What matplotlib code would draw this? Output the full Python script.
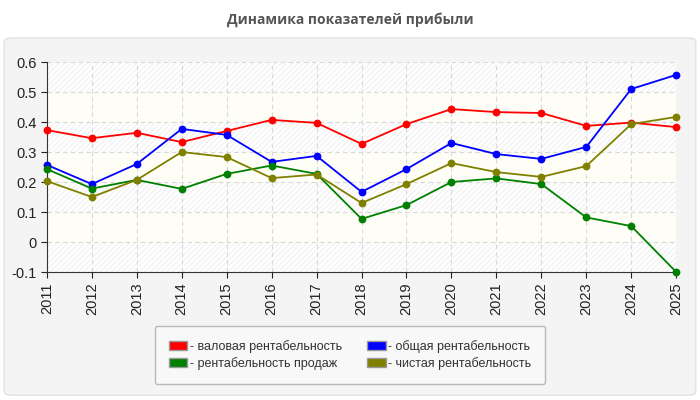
import matplotlib.pyplot as plt
import numpy as np
from matplotlib.patches import FancyBboxPatch, Patch, Rectangle

years = list(range(2011, 2026))
gross = [0.373, 0.346, 0.364, 0.333, 0.370, 0.407, 0.397, 0.327, 0.393, 0.443, 0.433, 0.430, 0.387, 0.398, 0.383]
total = [0.257, 0.193, 0.260, 0.377, 0.357, 0.267, 0.287, 0.167, 0.243, 0.330, 0.293, 0.277, 0.317, 0.510, 0.557]
sales = [0.243, 0.178, 0.207, 0.177, 0.227, 0.255, 0.227, 0.077, 0.123, 0.200, 0.212, 0.193, 0.082, 0.053, -0.100]
net = [0.203, 0.150, 0.207, 0.300, 0.283, 0.213, 0.225, 0.130, 0.193, 0.263, 0.233, 0.217, 0.253, 0.393, 0.417]
labels = ['- валовая рентабельность', '- рентабельность продаж',
          '- общая рентабельность', '- чистая рентабельность']

plt.rcParams['font.family'] = ['Liberation Sans', 'DejaVu Sans']

fig = plt.figure(figsize=(7, 4), dpi=100)
fig.patch.set_facecolor('white')

# gray panel behind the chart
panel = FancyBboxPatch((0.006, 0.012), 0.988, 0.893, boxstyle='round,pad=0,rounding_size=0.01',
                       transform=fig.transFigure, facecolor='#f4f4f4', edgecolor='#e2e2e2', lw=1,
                       zorder=-10)
fig.patches.append(panel)
fig.text(0.5, 0.952, 'Динамика показателей прибыли', ha='center', va='center',
         fontsize=10, fontweight='bold', color='#555555', family=['Open Sans', 'DejaVu Sans'])

ax = fig.add_axes([0.067, 0.32, 0.899, 0.525])
ax.set_facecolor('white')
ax.set_xlim(2011, 2025)
ax.set_ylim(-0.1, 0.6)

# alternating background bands
for i, lo in enumerate(np.arange(-0.1, 0.6, 0.1)):
    if i % 2 == 0:
        ax.add_patch(Rectangle((2011, lo), 14, 0.1, facecolor='white', edgecolor='#f3f3f3',
                               hatch='//////', lw=0, zorder=0))
    else:
        ax.add_patch(Rectangle((2011, lo), 14, 0.1, facecolor='#fefef7', lw=0, zorder=0))

ax.grid(True, color='#d8d8d8', linestyle=(0, (4, 3)), lw=0.8)
ax.set_axisbelow(True)

series = [(gross, 'red'), (total, 'blue'), (sales, 'green'), (net, 'olive')]
for vals, c in series:
    ax.plot(years, vals, color=c, lw=1.3, marker='o', ms=4.6, zorder=3, clip_on=False)

ax.set_xticks(years)
ax.set_xticklabels([str(y) for y in years], rotation=90)
ax.set_yticks(np.round(np.arange(-0.1, 0.61, 0.1), 1))
ax.set_yticklabels(['-0.1', '0', '0.1', '0.2', '0.3', '0.4', '0.5', '0.6'])
ax.tick_params(labelsize=10.5, colors='#222222', length=4)
for s in ['top', 'right']:
    ax.spines[s].set_visible(False)
ax.spines['left'].set_color('#333333')
ax.spines['bottom'].set_color('#333333')

handles = [Patch(facecolor=c, edgecolor='#999999') for c in ['red', 'green', 'blue', 'olive']]
leg = fig.legend(handles, labels, ncol=2, loc='center', bbox_to_anchor=(0.5, 0.113),
                 fontsize=9, frameon=True, facecolor='#fafafa', edgecolor='#aaaaaa',
                 handlelength=1.5, handleheight=0.7, handletextpad=0.2, columnspacing=2.0,
                 borderpad=1.1, labelspacing=0.35, fancybox=True)
for t in leg.get_texts():
    t.set_color('#333333')

fig.savefig('out.png', dpi=100)
